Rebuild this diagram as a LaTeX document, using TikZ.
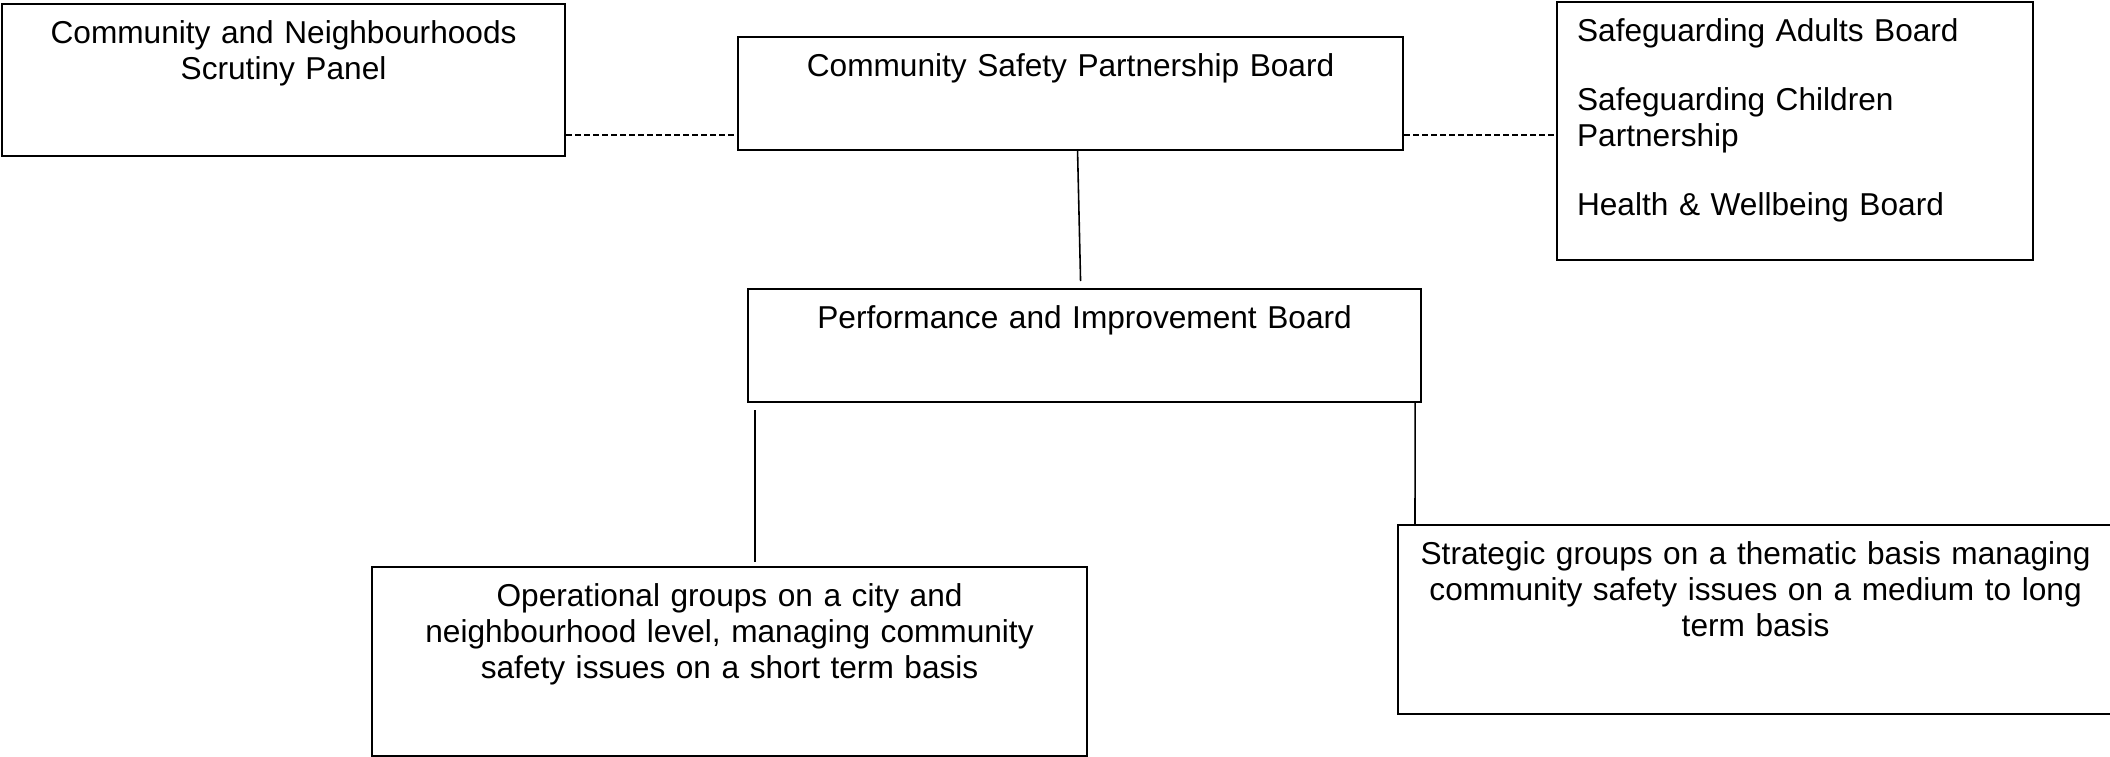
\documentclass[tikz,border=0pt]{standalone}
\usepackage{fontspec}
\setmainfont{Liberation Sans}
\usepackage{tikz}
\usetikzlibrary{calc}

\begin{document}
\begin{tikzpicture}[
        font=\fontsize{9pt}{10.25pt}\selectfont,
        board/.style={draw, line width=0.6pt, anchor=north west, inner xsep=0.2cm, inner ysep=0.18cm, text height=0.21cm, align=center},
        link/.style={line width=0.45pt},
        dotlink/.style={line width=0.45pt, dash pattern=on 0.06cm off 0.03cm}
    ]
        \useasboundingbox (0, 0) rectangle (21.1, -7.56);
        \node[board, text width=5.23cm, text depth=0.95cm] (cnsp) at (0.01, -0.03) {Community and Neighbourhoods\\Scrutiny Panel};
        \node[board, text width=6.25cm, text depth=0.56cm] (csp) at (7.37, -0.36) {Community Safety Partnership Board};
        \node[board, text width=4.36cm, text depth=2.01cm, align=left] (sab) at (15.56, -0.01) {Safeguarding Adults Board\\[0.33cm]Safeguarding Children\\Partnership\\[0.33cm]Health \& Wellbeing Board};
        \node[board, text width=6.33cm, text depth=0.56cm] (pib) at (7.47, -2.88) {Performance and Improvement Board};
        \node[board, text width=6.75cm, text depth=1.32cm] (ops) at (3.71, -5.66) {Operational groups on a city and\\neighbourhood level, managing community\\safety issues on a short term basis};
        \node[board, text width=6.75cm, text depth=1.32cm] (strat) at (13.97, -5.24) {Strategic groups on a thematic basis managing\\community safety issues on a medium to long\\term basis};
        \coordinate (midrow) at (0, -1.35);
        \draw[dotlink] (cnsp.east |- midrow) -- (csp.west |- midrow);
        \draw[dotlink] (csp.east |- midrow) -- (sab.west |- midrow);
        \draw[link] ($(csp.south)+(0.07, 0)$) -- ($(pib.north)+(-0.04, 0.07)$);
        \draw[link] ($(pib.south west)+(0.08, -0.07)$) -- ($(pib.south west |- ops.north)+(0.08, 0.04)$);
        \draw[link] ($(pib.south east)+(-0.07, 0)$) -- ($(strat.north west)+(0.18, 0)$);
    \end{tikzpicture}
\end{document}
